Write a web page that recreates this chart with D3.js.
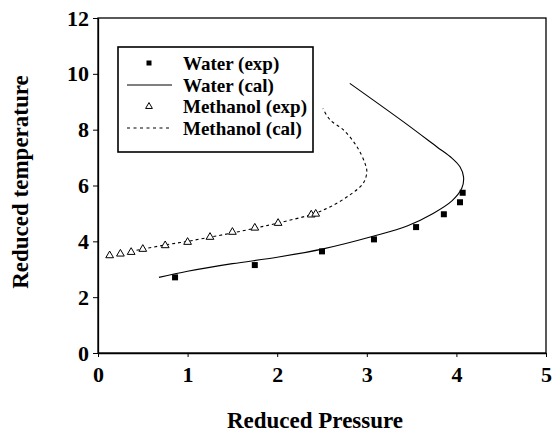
<!DOCTYPE html>
<html>
<head>
<meta charset="utf-8">
<script src="https://cdn.jsdelivr.net/npm/d3@7"></script>
<style>
  html, body { margin: 0; padding: 0; background: #fff; }
  svg text { font-family: "Liberation Serif", "Times New Roman", Times, serif !important; font-weight: 700 !important; }
</style>
</head>
<body>
<svg id="chart" width="554" height="435"></svg>
<script>
// ---- data ----
const xTicks = [0, 1, 2, 3, 4, 5];
const yTicks = [0, 2, 4, 6, 8, 10, 12];

const waterExpP = [0.86, 1.75, 2.50, 3.08, 3.55, 3.86, 4.04, 4.07];
const waterExpT = [2.71, 3.15, 3.64, 4.07, 4.51, 4.97, 5.40, 5.74];

const waterCalP = [0.68, 1.00, 1.50, 2.00, 2.50, 3.08, 3.45, 3.74, 3.95, 4.06, 4.08, 4.04, 3.95, 3.78, 3.41, 2.81];
const waterCalT = [2.71, 2.93, 3.20, 3.43, 3.72, 4.19, 4.55, 5.00, 5.45, 5.90, 6.30, 6.67, 6.98, 7.39, 8.28, 9.66];

const methExpP = [0.13, 0.25, 0.37, 0.50, 0.75, 1.00, 1.25, 1.50, 1.75, 2.01, 2.38, 2.43];
const methExpT = [3.51, 3.57, 3.63, 3.74, 3.87, 3.99, 4.17, 4.35, 4.50, 4.67, 4.97, 5.00];

const methCalP = [0.43, 0.75, 1.00, 1.25, 1.50, 1.75, 2.00, 2.40, 2.60, 2.81, 2.96, 3.00, 2.98, 2.89, 2.74, 2.59, 2.51];
const methCalT = [3.68, 3.87, 4.00, 4.15, 4.30, 4.47, 4.65, 4.98, 5.25, 5.66, 6.08, 6.49, 6.79, 7.39, 7.99, 8.35, 8.76];

const legendLabels = ["Water (exp)", "Water (cal)", "Methanol (exp)", "Methanol (cal)"];
const xTitle = "Reduced Pressure";
const yTitle = "Reduced temperature";

// ---- layout ----
const FONT = "Liberation Serif, Times New Roman, Times, serif";
const svg = d3.select("#chart");
const L = 98, R = 546, T = 18, B = 353;
const x = d3.scaleLinear().domain([0, 5]).range([L, R]);
const y = d3.scaleLinear().domain([0, 12]).range([B, T]);

function styleText(sel, size) {
  sel.attr("font-family", FONT).attr("font-weight", "bold").attr("font-size", size).attr("fill", "#000");
}

// frame
svg.append("rect").attr("x", L).attr("y", T).attr("width", R - L).attr("height", B - T)
  .attr("fill", "none").attr("stroke", "#000").attr("stroke-width", 1.3);

// axes
const xAxis = d3.axisBottom(x).tickValues(xTicks).tickSize(4).tickSizeOuter(0).tickPadding(6).tickFormat(d3.format("d"));
const gx = svg.append("g").attr("transform", `translate(0,${B})`).call(xAxis);
styleText(gx, 22);
gx.select(".domain").attr("stroke", "#000").attr("stroke-width", 1.3);
gx.selectAll(".tick line").attr("stroke", "#000");
styleText(gx.selectAll("text").attr("dy", "0.85em"), 22);

const yAxis = d3.axisLeft(y).tickValues(yTicks).tickSize(5).tickSizeOuter(0).tickPadding(4).tickFormat(d3.format("d"));
const gy = svg.append("g").attr("transform", `translate(${L},0)`).call(yAxis);
styleText(gy, 22);
gy.select(".domain").attr("stroke", "#000").attr("stroke-width", 1.3);
gy.selectAll(".tick line").attr("stroke", "#000");
styleText(gy.selectAll("text"), 22);

// titles
styleText(svg.append("text").attr("x", 315).attr("y", 428).attr("text-anchor", "middle").text(xTitle), 23);
styleText(svg.append("text").attr("transform", `translate(28,${182}) rotate(-90)`).attr("text-anchor", "middle").text(yTitle), 23);

// lines
const line = d3.line().x(d => x(d[0])).y(d => y(d[1])).curve(d3.curveCatmullRom.alpha(0.5));
svg.append("path").datum(d3.zip(waterCalP, waterCalT)).attr("d", line)
  .attr("fill", "none").attr("stroke", "#000").attr("stroke-width", 1.1);
svg.append("path").datum(d3.zip(methCalP, methCalT)).attr("d", line)
  .attr("fill", "none").attr("stroke", "#000").attr("stroke-width", 1.1).attr("stroke-dasharray", "3,3");

// points
const sq = 6;
svg.append("g").selectAll("rect").data(d3.zip(waterExpP, waterExpT)).join("rect")
  .attr("x", d => x(d[0]) - sq / 2).attr("y", d => y(d[1]) - sq / 2)
  .attr("width", sq).attr("height", sq).attr("fill", "#000");

const tri = d3.symbol().type(d3.symbolTriangle).size(26);
svg.append("g").selectAll("path").data(d3.zip(methExpP, methExpT)).join("path")
  .attr("transform", d => `translate(${x(d[0])},${y(d[1]) + 0.5})`)
  .attr("d", tri).attr("fill", "#fff").attr("stroke", "#000").attr("stroke-width", 1);

// legend
const lg = svg.append("g");
lg.append("rect").attr("x", 118).attr("y", 47).attr("width", 195).attr("height", 105)
  .attr("fill", "#fff").attr("stroke", "#000").attr("stroke-width", 1.6);
const rowY = [63, 85, 106, 128];
legendLabels.forEach((lab, i) => {
  styleText(lg.append("text").attr("x", 183).attr("y", rowY[i]).attr("dy", "0.35em").text(lab), 19);
});
lg.append("rect").attr("x", 149 - 2.5).attr("y", rowY[0] - 2.5).attr("width", 5).attr("height", 5).attr("fill", "#000");
lg.append("line").attr("x1", 127).attr("x2", 172).attr("y1", rowY[1]).attr("y2", rowY[1]).attr("stroke", "#000").attr("stroke-width", 1.1);
lg.append("path").attr("transform", `translate(149,${rowY[2] + 0.5})`).attr("d", d3.symbol().type(d3.symbolTriangle).size(20)())
  .attr("fill", "#fff").attr("stroke", "#000").attr("stroke-width", 1);
lg.append("line").attr("x1", 127).attr("x2", 172).attr("y1", rowY[3]).attr("y2", rowY[3]).attr("stroke", "#000").attr("stroke-width", 1.1).attr("stroke-dasharray", "3,3.5");
</script>
</body>
</html>
